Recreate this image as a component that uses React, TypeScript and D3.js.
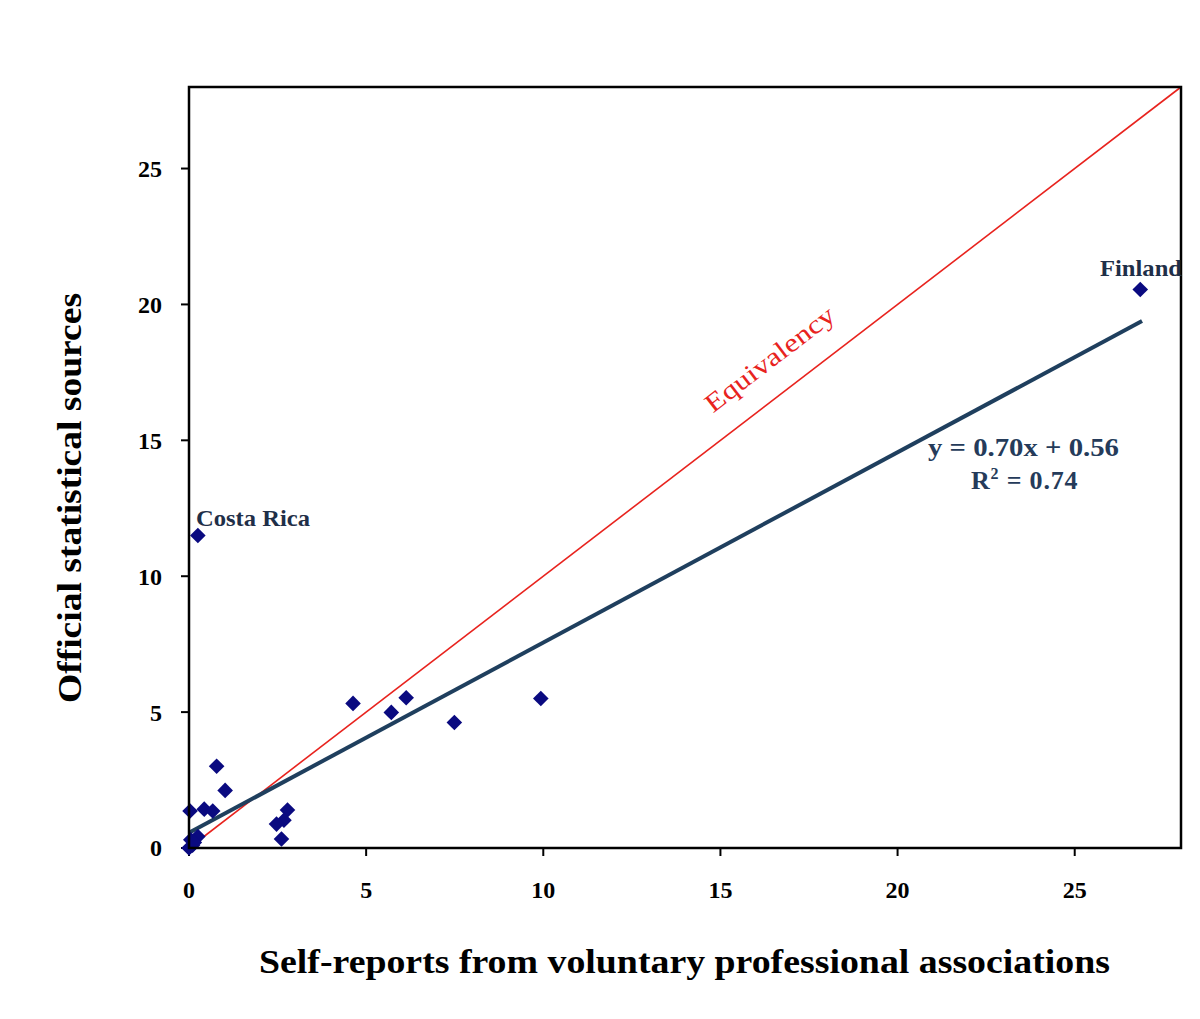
import React from "react";
import * as d3 from "d3";

const xTicks = [0, 5, 10, 15, 20, 25];
const yTicks = [0, 5, 10, 15, 20, 25];

const pointX = [26.85, 0.25, 4.63, 5.71, 6.13, 7.49, 9.93, 0.78, 1.02, 0.03, 0.43, 0.67, 2.78, 2.68, 2.47, 2.61, 0.0, 0.1, 0.05, 0.25, 0.15];
const pointY = [20.55, 11.5, 5.32, 4.99, 5.53, 4.62, 5.5, 3.01, 2.12, 1.36, 1.43, 1.36, 1.4, 1.02, 0.88, 0.33, 0.0, 0.1, 0.3, 0.42, 0.2];

const slope = 0.7;
const intercept = 0.56;
const fitRange = [0, 26.9];
const equivRange = [0, 28];

const labels = [
  { name: "Finland", x: 26.85, y: 20.55 },
  { name: "Costa Rica", x: 0.25, y: 11.5 },
];

const W = 1200;
const H = 1019;
const left = 189, right = 1181, top = 87, bottom = 848;

export default function App() {
  const x = d3.scaleLinear().domain([0, 28]).range([left, right]);
  const y = d3.scaleLinear().domain([0, 28]).range([bottom, top]);
  const serif = "'Liberation Serif', 'DejaVu Serif', serif";
  const line = d3.line<number>().x((d) => x(d)).y((d) => y(slope * d + intercept));
  const eqLine = d3.line<number>().x((d) => x(d)).y((d) => y(d));
  const diamond = d3.symbol().type(d3.symbolDiamond2 ?? d3.symbolDiamond).size(155)();
  const angle = (Math.atan2(y(0) - y(1), x(1) - x(0)) * 180) / Math.PI;

  return (
    <svg width={W} height={H} style={{ position: "absolute", left: 0, top: 0, background: "#fff" }} fontFamily={serif}>
      <rect x={0} y={0} width={W} height={H} fill="#fff" />
      {/* ticks */}
      {xTicks.map((t) => (
        <g key={"x" + t}>
          <line x1={x(t)} x2={x(t)} y1={bottom} y2={bottom + 8} stroke="#000" strokeWidth={2} />
          <text x={x(t)} y={bottom + 50} textAnchor="middle" fontSize={24} fontWeight="bold">{t}</text>
        </g>
      ))}
      {yTicks.map((t) => (
        <g key={"y" + t}>
          <line x1={left - 8} x2={left} y1={y(t)} y2={y(t)} stroke="#000" strokeWidth={2} />
          <text x={162} y={y(t)} dy="0.35em" textAnchor="end" fontSize={24} fontWeight="bold">{t}</text>
        </g>
      ))}
      {/* equivalency line */}
      <path d={eqLine(equivRange) || ""} stroke="#E8231E" strokeWidth={1.6} fill="none" />
      {/* fit line */}
      <path d={line(fitRange) || ""} stroke="#1F3F5E" strokeWidth={4} fill="none" />
      {/* points */}
      {pointX.map((px, i) => (
        <path key={i} d={diamond || ""} transform={`translate(${x(px)},${y(pointY[i])})`} fill="#0A0A80" />
      ))}
      {/* frame */}
      <rect x={left} y={top} width={right - left} height={bottom - top} fill="none" stroke="#000" strokeWidth={2.5} />
      {/* labels */}
      <text x={1100} y={276} fontSize={23} fontWeight="bold" fill="#1F2F48" textLength={82} lengthAdjust="spacingAndGlyphs">{labels[0].name}</text>
      <text x={196} y={526} fontSize={23} fontWeight="bold" fill="#1F2F48" textLength={114} lengthAdjust="spacingAndGlyphs">{labels[1].name}</text>
      <text transform={`translate(${775},${366}) rotate(${-angle})`} x={-78} fontSize={26} fill="#E8231E" textLength={156} lengthAdjust="spacingAndGlyphs">Equivalency</text>
      <text x={928} y={456} fontSize={25} fontWeight="bold" fill="#253B5A" textLength={191} lengthAdjust="spacingAndGlyphs">y = 0.70x + 0.56</text>
      <text x={971} y={489} fontSize={26} fontWeight="bold" fill="#253B5A" letterSpacing={0.8}>R<tspan dy={-10} fontSize={16}>2</tspan><tspan dy={10}> = 0.74</tspan></text>
      {/* axis titles */}
      <text x={259} y={973} fontSize={33} fontWeight="bold" textLength={851} lengthAdjust="spacingAndGlyphs">Self-reports from voluntary professional associations</text>
      <text transform={`translate(81,703) rotate(-90)`} fontSize={33} fontWeight="bold" textLength={410} lengthAdjust="spacingAndGlyphs">Official statistical sources</text>
    </svg>
  );
}
